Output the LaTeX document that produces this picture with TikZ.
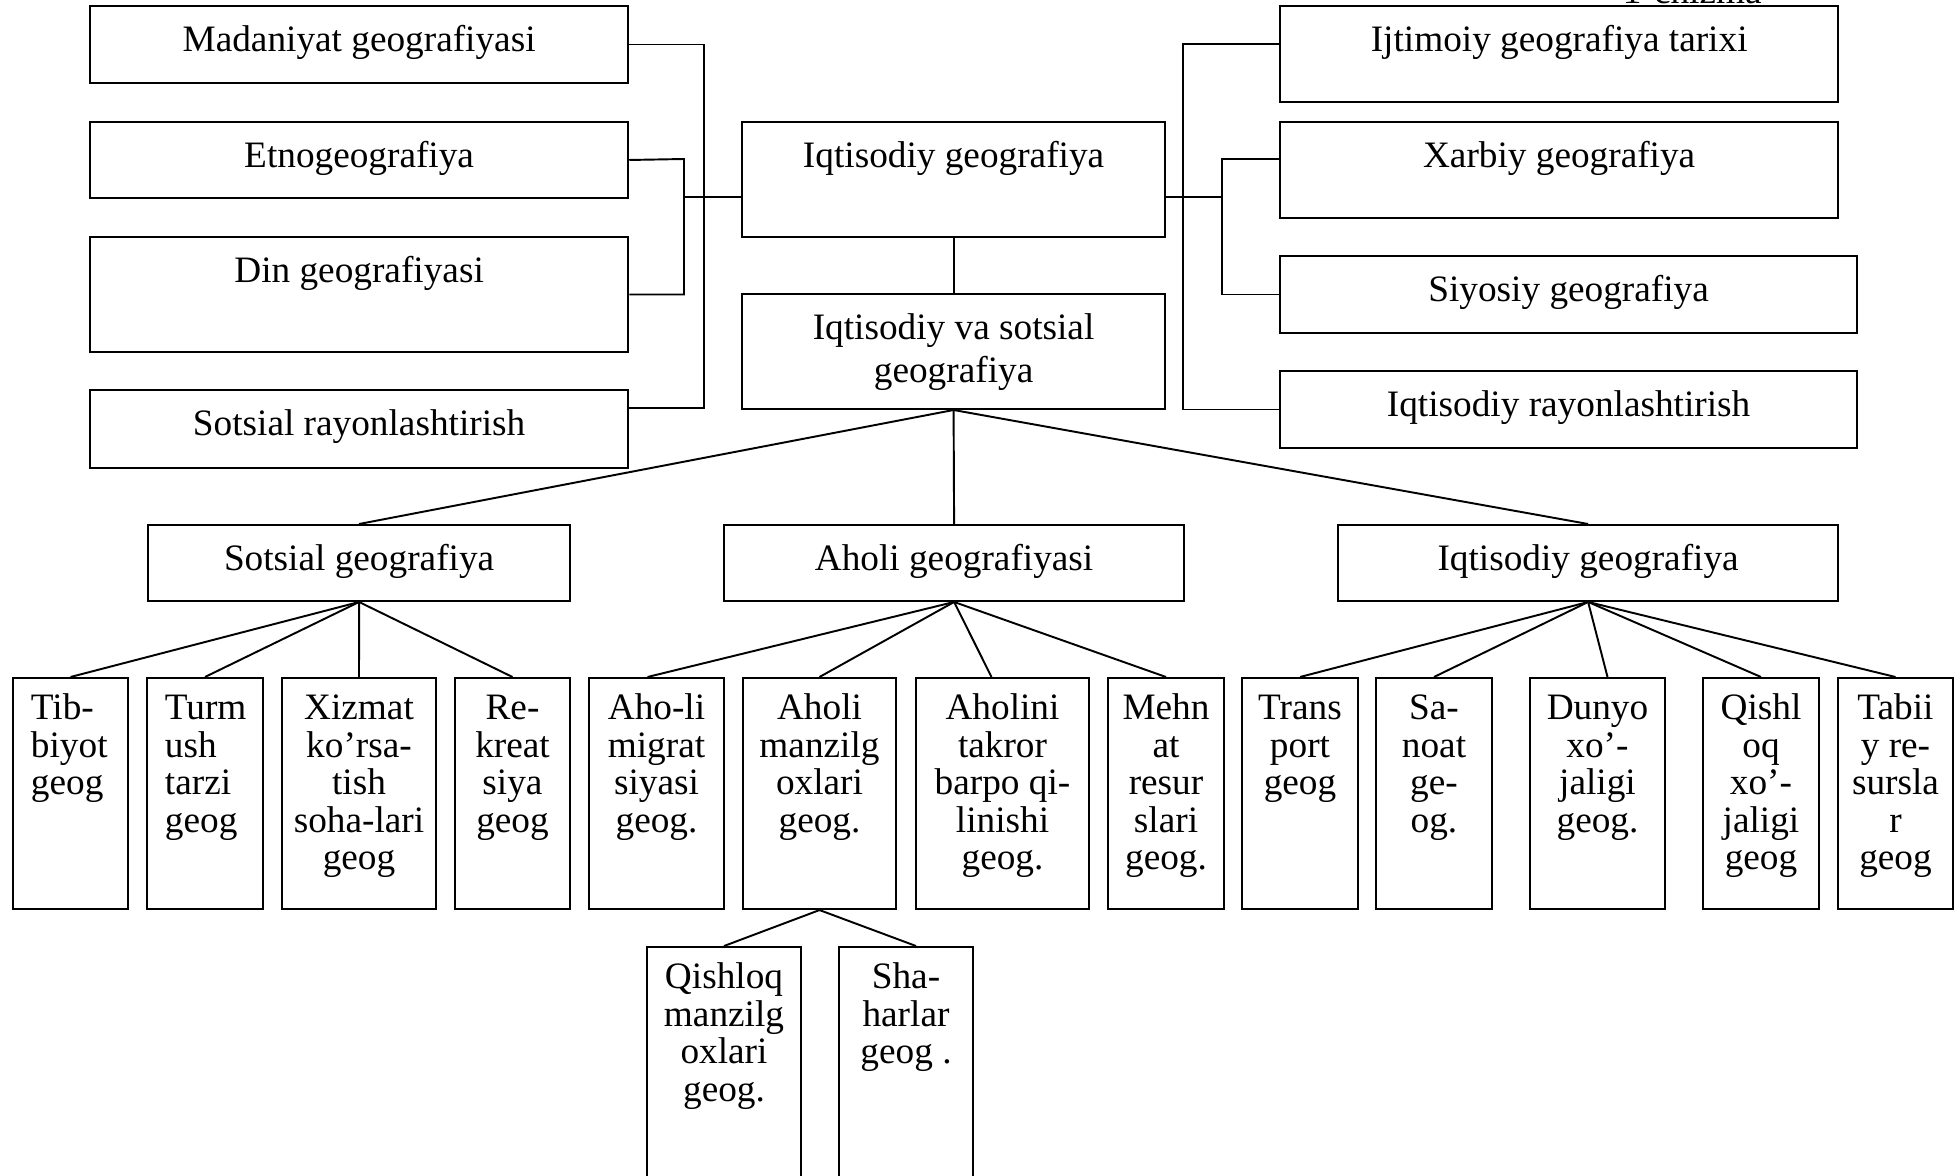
\documentclass[tikz,border=0pt]{standalone}
\usepackage{fontspec}
\setmainfont{Liberation Serif}
\tikzset{every picture/.style={line width=0.55pt}}
\newcommand{\celltext}[4][0.46cm]{\parbox[t][#3][t]{#2}{\centering\rule{0pt}{#1}#4}}

\begin{document}
\begin{tikzpicture}[x=0.01cm, y=-0.01cm]
\useasboundingbox (0,0) rectangle (1957,1176);
\clip (0,0) rectangle (1957,1176);

\node[anchor=base west, inner sep=0pt, font=\fontsize{10.6}{10.64}\selectfont] (chizma) at (1622,4) {1-chizma};

\begin{scope}[every node/.style={draw, anchor=north west, inner sep=0pt, font=\fontsize{10.6}{10.64}\selectfont}]
% left column
\node (mad) at (89,5) {\celltext{5.38cm}{0.77cm}{Madaniyat geografiyasi}};
\node (etno) at (89,121) {\celltext{5.38cm}{0.76cm}{Etnogeografiya}};
\node (din) at (89,236) {\celltext{5.38cm}{1.15cm}{Din geografiyasi}};
\node (sotr) at (89,389) {\celltext{5.38cm}{0.78cm}{Sotsial rayonlashtirish}};
% centre
\node (iqg) at (741,121) {\celltext{4.23cm}{1.15cm}{Iqtisodiy geografiya}};
\node (iqs) at (741,293) {\celltext{4.23cm}{1.15cm}{Iqtisodiy va sotsial\\[0.046cm]geografiya}};
% right column
\node (ijt) at (1279,5) {\celltext{5.58cm}{0.96cm}{Ijtimoiy geografiya tarixi}};
\node (xar) at (1279,121) {\celltext{5.58cm}{0.96cm}{Xarbiy geografiya}};
\node (siy) at (1279,255) {\celltext{5.77cm}{0.77cm}{Siyosiy geografiya}};
\node (iqr) at (1279,370) {\celltext{5.77cm}{0.77cm}{Iqtisodiy rayonlashtirish}};
% third row
\node (sots) at (147,524) {\celltext{4.22cm}{0.76cm}{Sotsial geografiya}};
\node (aholi) at (723,524) {\celltext{4.60cm}{0.76cm}{Aholi geografiyasi}};
\node (iqt) at (1337,524) {\celltext{5.00cm}{0.76cm}{Iqtisodiy geografiya}};
% fourth row
\node (tib) at (12,677) {\celltext[0.42cm]{1.15cm}{2.31cm}{\raggedright\leftskip=0.18cm Tib-\\biyot\\geog}};
\node (turm) at (146,677) {\celltext[0.42cm]{1.16cm}{2.31cm}{\raggedright\leftskip=0.18cm Turm\\ush\\tarzi\\geog}};
\node (xiz) at (281,677) {\celltext[0.42cm]{1.54cm}{2.31cm}{Xizmat\\ko’rsa-\\tish\\soha-lari\\geog}};
\node (rek) at (454,677) {\celltext[0.42cm]{1.15cm}{2.31cm}{Re-\\kreat\\siya\\geog}};
\node (mig) at (588,677) {\celltext[0.42cm]{1.35cm}{2.31cm}{Aho-li\\migrat\\siyasi\\geog.}};
\node (manz) at (742,677) {\celltext[0.42cm]{1.53cm}{2.31cm}{Aholi\\manzilg\\oxlari\\geog.}};
\node (takr) at (915,677) {\celltext[0.42cm]{1.73cm}{2.31cm}{Aholini\\takror\\barpo qi-\\linishi\\geog.}};
\node (mehn) at (1107,677) {\celltext[0.42cm]{1.16cm}{2.31cm}{Mehn\\at\\resur\\slari\\geog.}};
\node (trans) at (1241,677) {\celltext[0.42cm]{1.16cm}{2.31cm}{Trans\\port\\geog}};
\node (san) at (1375,677) {\celltext[0.42cm]{1.16cm}{2.31cm}{Sa-\\noat\\ge-\\og.}};
\node (dun) at (1529,677) {\celltext[0.42cm]{1.35cm}{2.31cm}{Dunyo\\xo’-\\jaligi\\geog.}};
\node (qxo) at (1702,677) {\celltext[0.42cm]{1.16cm}{2.31cm}{Qishl\\oq\\xo’-\\jaligi\\geog}};
\node (tab) at (1837,677) {\celltext[0.42cm]{1.15cm}{2.31cm}{Tabii\\y re-\\sursla\\r\\geog}};
% fifth row
\node (qman) at (646,946) {\celltext[0.42cm]{1.54cm}{3cm}{Qishloq\\manzilg\\oxlari\\geog.}};
\node (shah) at (838,946) {\celltext[0.42cm]{1.34cm}{3cm}{Sha-\\harlar\\geog .}};
\end{scope}

% side brackets
\coordinate (lo) at (704,408);
\coordinate (li) at (684,159);
\coordinate (lh) at (684,197);
\coordinate (ro) at (1183,44);
\coordinate (ri) at (1222,159);
\coordinate (rh) at (1222,197);
\draw (mad.east) -| (lo) -- (sotr.east |- lo);
\draw (etno.east) -- (li) |- (din.east);
\draw (lh) -- (iqg.west |- lh);
\draw (ijt.west |- ro) -- (ro) |- (iqr.west);
\draw (xar.west |- ri) -- (ri) |- (siy.west);
\draw (iqg.east |- rh) -- (rh);

\begin{scope}[every edge/.style={draw}]
    \path (iqg) edge (iqs);
    \path (iqs.south) edge (sots.north) edge (aholi.north) edge (iqt.north);
    \path (sots.south) edge (tib.north) edge (turm.north) edge (xiz.north) edge (rek.north);
    \path (aholi.south) edge ([xshift=-0.09cm]mig.north) edge (manz.north)
        edge ([xshift=-0.11cm]takr.north) edge (mehn.north);
    \path (iqt.south) edge (trans.north) edge (san.north) edge ([xshift=0.1cm]dun.north)
        edge (qxo.north) edge (tab.north);
    \path (manz.south) edge (qman.north) edge ([xshift=0.1cm]shah.north);
\end{scope}
\end{tikzpicture}
\end{document}
